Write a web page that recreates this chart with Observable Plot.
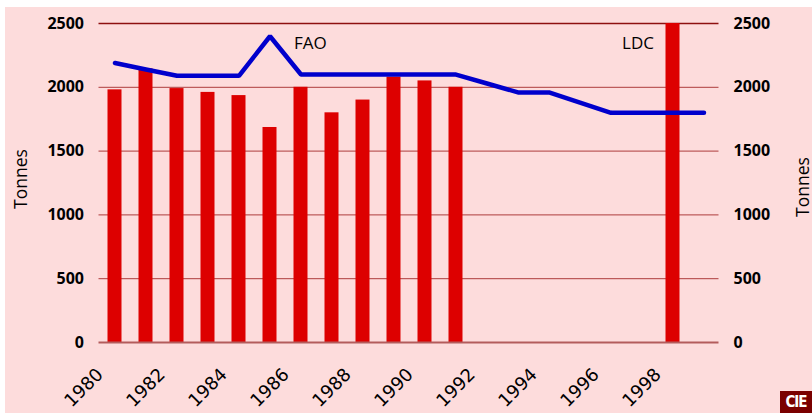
<!DOCTYPE html>
<html>
<head>
<meta charset="utf-8">
<script src="https://cdn.jsdelivr.net/npm/d3@7"></script>
<script src="https://cdn.jsdelivr.net/npm/@observablehq/plot@0.6"></script>
<style>
  html, body { margin: 0; padding: 0; background: #ffffff; }
  body { width: 812px; height: 413px; overflow: hidden; position: relative; font-family: "Open Sans", sans-serif; }
  #chart { position: absolute; left: 5px; top: 7px; }
  #logo {
    position: absolute; left: 780px; top: 391px; width: 32px; height: 22px;
    background: #7a0000; color: #ffffff; font: bold 15px "DejaVu Sans Condensed", "DejaVu Sans", sans-serif;
    line-height: 23px; text-align: center; letter-spacing: -1px; overflow: hidden;
  }
</style>
</head>
<body>
<div id="chart"></div>
<div id="logo">CIE</div>
<script>
// Categories (years on the x axis)
const years = [1980, 1981, 1982, 1983, 1984, 1985, 1986, 1987, 1988, 1989,
               1990, 1991, 1992, 1993, 1994, 1995, 1996, 1997, 1998, 1999];

// LDC series (bars)
const ldcYears  = [1980, 1981, 1982, 1983, 1984, 1985, 1986, 1987, 1988, 1989, 1990, 1991, 1998];
const ldcValues = [1980, 2145, 1990, 1960, 1935, 1685, 2000, 1800, 1900, 2080, 2050, 2000, 2500];

// FAO series (line)
const faoValues = [2190, 2140, 2090, 2090, 2090, 2400, 2100, 2100, 2100, 2100,
                   2100, 2100, 2030, 1960, 1960, 1880, 1800, 1800, 1800, 1800];

// Tick labels
const yTicks = [0, 500, 1000, 1500, 2000, 2500];
const xTickYears = [1980, 1982, 1984, 1986, 1988, 1990, 1992, 1994, 1996, 1998];

// Series labels
const faoLabel = [{year: 1986, value: 2345, label: "FAO"}];
const ldcLabel = [{year: 1998, value: 2345, label: "LDC"}];

const ldc = ldcYears.map((y, i) => ({year: y, value: ldcValues[i]}));
const fao = years.map((y, i) => ({year: y, value: faoValues[i]}));

const chart = Plot.plot({
  width: 807,
  height: 406,
  marginLeft: 93.5,
  marginRight: 93.5,
  marginTop: 16,
  marginBottom: 71,
  style: {background: "#fddcdc", fontFamily: "Open Sans", overflow: "visible"},
  x: {type: "band", domain: years, padding: 0, axis: null},
  y: {domain: [0, 2500], axis: null},
  marks: [
    Plot.ruleY(yTicks.filter(d => d > 0 && d < 2500), {stroke: "#ad3c3c", strokeWidth: 1}),
    Plot.ruleY([2500], {stroke: "#8e1010", strokeWidth: 1.3}),
    Plot.barY(ldc, {x: "year", y: "value", fill: "#dd0000", insetLeft: 8.5, insetRight: 8.5}),
    Plot.ruleY([0], {stroke: "#b35c5c", strokeWidth: 2}),
    Plot.line(fao, {x: "year", y: "value", stroke: "#0000cc", strokeWidth: 4.5, strokeLinejoin: "miter", strokeLinecap: "round"}),
    // left y tick labels
    Plot.text(yTicks, {y: d => d, text: d => String(d), frameAnchor: "left", textAnchor: "end", dx: -15,
      fontSize: 16, fontWeight: "bold", fill: "#000", style: "letter-spacing:1px"}),
    // right y tick labels
    Plot.text(yTicks, {y: d => d, text: d => String(d), frameAnchor: "right", textAnchor: "start", dx: 14.5,
      fontSize: 16, fontWeight: "bold", fill: "#000"}),
    // x tick labels
    Plot.text(xTickYears, {x: d => d, y: 0, text: d => String(d), rotate: -45, textAnchor: "end",
      dx: -15, dy: 29, fontSize: 18, fontFamily: "DejaVu Sans", fill: "#000", style: "letter-spacing:-1.5px"}),
    // axis titles
    Plot.text(["Tonnes"], {frameAnchor: "left", rotate: -90, textAnchor: "middle", dx: -77.5, dy: -4, fontSize: 17.5, fill: "#000"}),
    Plot.text(["Tonnes"], {frameAnchor: "right", rotate: -90, textAnchor: "middle", dx: 84, dy: 4, fontSize: 17.5, fill: "#000"}),
    // series labels
    Plot.text(faoLabel, {x: "year", y: "value", text: "label", textAnchor: "start", dx: -7, fontSize: 17, fill: "#000"}),
    Plot.text(ldcLabel, {x: "year", y: "value", text: "label", textAnchor: "end", dx: -19, fontSize: 17, fill: "#000"})
  ]
});
document.getElementById("chart").appendChild(chart);
</script>
</body>
</html>
